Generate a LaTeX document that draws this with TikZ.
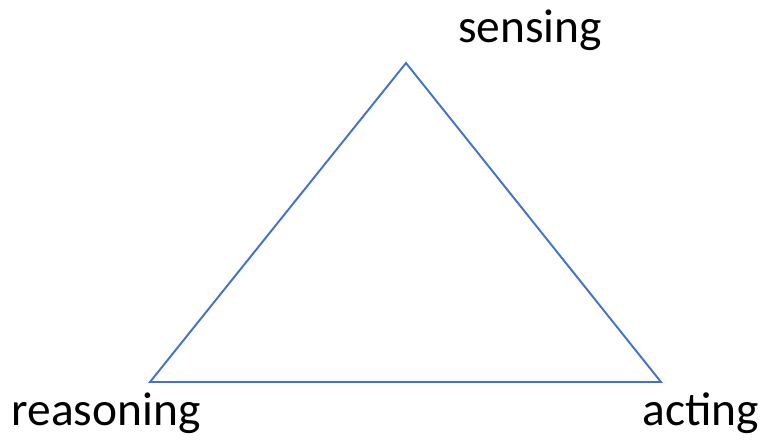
\documentclass[tikz,border=0pt]{standalone}
\usepackage{fontspec}
\setmainfont{Carlito}
\definecolor{edgeblue}{RGB}{68,114,196}
\tikzset{
    label text/.style={font=\fontsize{27}{32}\selectfont, inner sep=0pt, anchor=base},
    side/.style={line width=1.1pt, edgeblue, line join=miter}
}
\begin{document}
\begin{tikzpicture}[x=0.02cm, y=-0.02cm]

    % === FRAME ===
    \useasboundingbox (0,0) rectangle (763,446);

    % === CORNERS ===
    \coordinate (top) at (406,63);
    \coordinate (left) at (150,382);
    \coordinate (right) at (661,382);

    % === TRIANGLE ===
    \draw[side] (top) -- (right) -- (left) -- cycle;

    % === LABELS ===
    \node[label text] (sensing) at (530,43) {sensing};
    \node[label text] (reasoning) at (106,425) {reasoning};
    \node[label text] (acting) at (701,425) {acting};

\end{tikzpicture}
\end{document}
